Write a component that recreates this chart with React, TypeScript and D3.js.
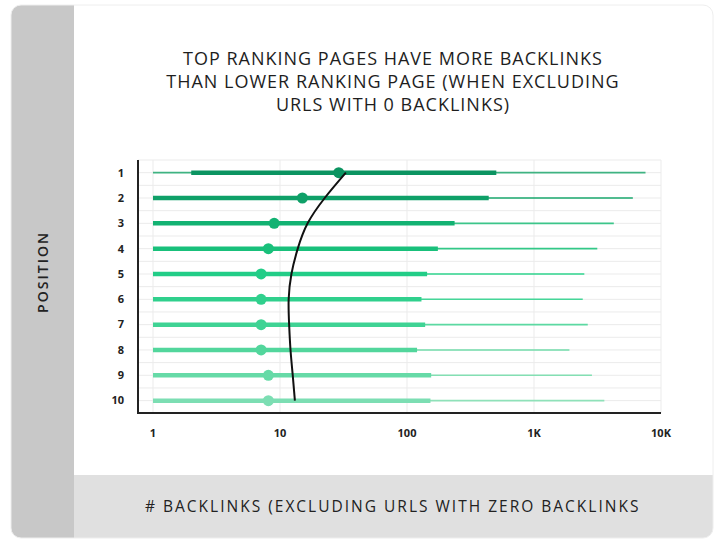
import * as React from "react";
import * as d3 from "d3";

// rank positions and backlink distribution per position (min, q1, median, q3, max)
const positions = [1, 2, 3, 4, 5, 6, 7, 8, 9, 10];
const minValues = [1, 1, 1, 1, 1, 1, 1, 1, 1, 1];
const q1Values = [2, 1, 1, 1, 1, 1, 1, 1, 1, 1];
const medianValues = [29, 15, 9, 8.1, 7.1, 7.1, 7.1, 7.1, 8.1, 8.1];
const q3Values = [505, 440, 237, 175, 144, 130, 139, 120, 155, 153];
const maxValues = [7550, 6000, 4250, 3150, 2490, 2420, 2650, 1900, 2860, 3580];
const trendValues = [33, 22.5, 16.5, 13.8, 12.3, 11.7, 11.8, 12.1, 12.6, 13.1];
const xTicks = [1, 10, 100, 1000, 10000];
const xTickLabels = ["1", "10", "100", "1K", "10K"];
const titleLines = [
  "TOP RANKING PAGES HAVE MORE BACKLINKS",
  "THAN LOWER RANKING PAGE (WHEN EXCLUDING",
  "URLS WITH 0 BACKLINKS)",
];

const barColors = [
  "#0b9461", "#0fa068", "#12b272", "#19c07b", "#22cd87",
  "#30d08d", "#3fd394", "#52d69c", "#66daa7", "#7cdeb3",
];
const whiskerColors = [
  "#3fb382", "#1aa86e", "#3cc58a", "#33c887", "#2fd48e",
  "#45d698", "#5cd9a2", "#73dcab", "#84dfb3", "#8fe1b9",
];

const font = "'Open Sans', 'DejaVu Sans', sans-serif";

export default function App() {
  const width = 717;
  const height = 546;

  const x = d3.scaleLog().domain([1, 10000]).range([153, 661]);
  const y = d3
    .scaleBand<number>()
    .domain(positions)
    .range([160, 413.3])
    .padding(0);
  const bw = y.bandwidth();
  const cy = (p: number) => (y(p) as number) + bw / 2;

  const gridYs: number[] = [];
  for (let i = 0; i <= positions.length * 2; i++) gridYs.push(160 + (i * bw) / 2);

  const trend = d3
    .line<number>()
    .x((d) => x(d))
    .y((_, i) => cy(positions[i]))
    .curve(d3.curveNatural);

  return (
    <svg
      width={width}
      height={height}
      style={{ position: "absolute", left: 0, top: 0, background: "#fff" }}
    >
      <defs>
        <clipPath id="card">
          <rect x={11} y={5} width={702} height={533} rx={10} />
        </clipPath>
      </defs>
      <g clipPath="url(#card)">
        <rect x={11} y={5} width={702} height={533} fill="#fff" />
        <rect x={11} y={5} width={63} height={533} fill="#c8c8c8" />
        <rect x={74} y={475} width={639} height={63} fill="#e0e0e0" />
      </g>
      <rect
        x={11}
        y={5}
        width={702}
        height={533}
        rx={10}
        fill="none"
        stroke="#eeeeee"
        strokeWidth={1}
      />

      {/* title */}
      <g fontFamily={font} fontSize={18} fontWeight={500} fill="#1e1e1e" textAnchor="middle">
        {titleLines.map((t, i) => (
          <text key={i} x={393} y={65 + i * 23} letterSpacing={1}>
            {t}
          </text>
        ))}
      </g>

      {/* position label */}
      <text
        transform="translate(48,272) rotate(-90)"
        textAnchor="middle"
        fontFamily={font}
        fontSize={14}
        fontWeight={600}
        letterSpacing={2}
        fill="#222"
      >
        POSITION
      </text>

      {/* x axis title */}
      <text
        x={145}
        y={512}
        fontFamily={font}
        fontSize={15.5}
        fontWeight={500}
        letterSpacing={2}
        fill="#222"
      >
        # BACKLINKS (EXCLUDING URLS WITH ZERO BACKLINKS
      </text>

      {/* grid */}
      <g stroke="#ebebeb" strokeWidth={1}>
        {gridYs.map((gy, i) => (
          <line key={"h" + i} x1={138} x2={661} y1={gy} y2={gy} />
        ))}
        {xTicks.map((t) => (
          <line key={"v" + t} x1={x(t)} x2={x(t)} y1={160} y2={413} />
        ))}
      </g>

      {/* whiskers and boxes */}
      {positions.map((p, i) => (
        <g key={p}>
          <line
            x1={x(minValues[i])}
            x2={x(maxValues[i])}
            y1={cy(p)}
            y2={cy(p)}
            stroke={whiskerColors[i]}
            strokeWidth={1.6}
          />
          <line
            x1={x(q1Values[i])}
            x2={x(q3Values[i])}
            y1={cy(p)}
            y2={cy(p)}
            stroke={barColors[i]}
            strokeWidth={4.5}
          />
          <circle cx={x(medianValues[i])} cy={cy(p)} r={5.5} fill={barColors[i]} />
        </g>
      ))}

      {/* trend curve */}
      <path d={trend(trendValues) as string} fill="none" stroke="#111" strokeWidth={2} />

      {/* axes */}
      <g stroke="#222" strokeWidth={2}>
        <line x1={138} x2={138} y1={160} y2={414} />
        <line x1={137} x2={661} y1={413} y2={413} />
      </g>

      {/* y labels */}
      <g fontFamily={font} fontSize={11} fontWeight={700} fill="#222" textAnchor="end">
        {positions.map((p) => (
          <text key={p} x={124} y={cy(p)} dy="0.35em">
            {p}
          </text>
        ))}
      </g>

      {/* x labels */}
      <g fontFamily={font} fontSize={11} fontWeight={700} fill="#222" textAnchor="middle">
        {xTicks.map((t, i) => (
          <text key={t} x={x(t)} y={437}>
            {xTickLabels[i]}
          </text>
        ))}
      </g>
    </svg>
  );
}
